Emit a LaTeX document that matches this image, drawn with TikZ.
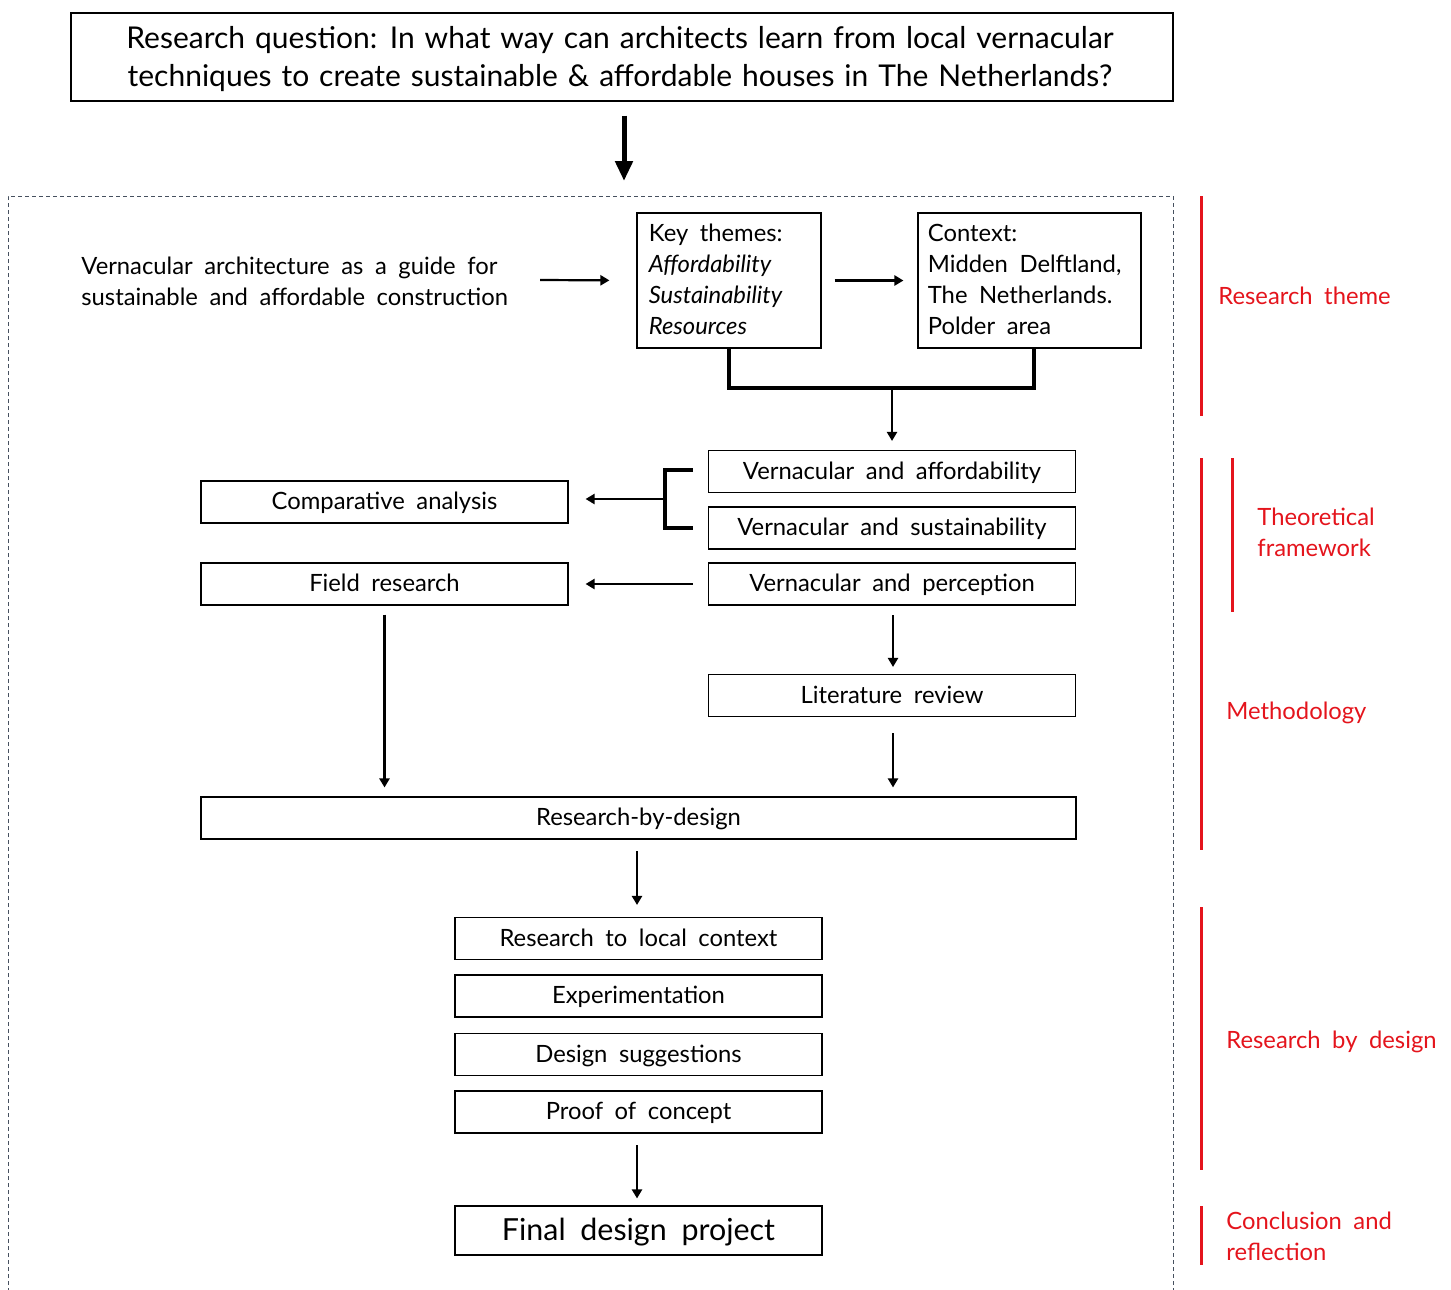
\documentclass[tikz,border=0pt]{standalone}
\usepackage{fontspec}
\setmainfont{Lato}[WordSpace=1.9]
\newfontfamily\qfont{Lato}[WordSpace=1.3]
\usetikzlibrary{arrows.meta,calc}
\definecolor{redlab}{RGB}{228,20,28}
\definecolor{framec}{RGB}{70,80,95}
\tikzset{
  txt/.style={font=\fontsize{11.9}{15.5}\selectfont, inner sep=0pt},
  box/.style={draw, line width=0.55pt, txt, minimum height=21pt, align=center, text height=10.3pt, text depth=2.5pt},
  wbox/.style={box, minimum width=183.5pt},
  arr/.style={-{Triangle[length=4.5pt,width=5pt]}, line width=1.1pt},
  bigarr/.style={-{Triangle[length=10pt,width=8.5pt]}, line width=2.5pt},
  brk/.style={line width=1.6pt},
  redline/.style={draw=redlab, line width=1.5pt},
  redtxt/.style={txt, text=redlab, anchor=west, align=left},
}
\begin{document}
\begin{tikzpicture}[x=0.5pt,y=-0.5pt]
\useasboundingbox (0,0) rectangle (1451,1290);
% frame
\draw[framec, line width=0.5pt, dash pattern=on 2pt off 1.5pt] (8,1292) -- (8,196) -- (1173,196) -- (1173,1292);
\coordinate (ftop) at (624,196);
% question
\node[draw, line width=0.55pt, minimum width=551pt, minimum height=44pt, inner sep=0pt] (q) at (622,57) {};
\node[align=center, inner sep=0pt, font=\qfont\fontsize{15}{19}\selectfont] (qt) at (620,59)
  {Research question: In what way can architects learn from local vernacular\\techniques to create sustainable \& affordable houses in The Netherlands?};
\draw[bigarr, shorten <=7pt, shorten >=7.5pt] (q.south -| ftop) -- (ftop);
% research theme
\node[txt, anchor=west, align=left] (vern) at (81,281) {Vernacular architecture as a guide for\\sustainable and affordable construction};
\node[draw, line width=0.55pt, txt, minimum width=92pt, minimum height=67.5pt] (kt) at (729,280.5) {};
\node[txt, anchor=north west, align=left] (ktt) at ($(kt.north west)+(12,11)$)
  {Key themes:\\\textit{Affordability}\\\textit{Sustainability}\\\textit{Resources}};
\node[draw, line width=0.55pt, txt, minimum width=111.5pt, minimum height=67.5pt] (ctx) at (1029.5,280.5) {};
\node[txt, anchor=north west, align=left] (ctxt) at ($(ctx.north west)+(10,11)$)
  {Context:\\Midden Delftland,\\The Netherlands.\\Polder area};
\coordinate (a1) at (540,280);
\draw[arr, shorten >=13.5pt] (a1) -- (kt.west);
\draw[arr, shorten <=6.5pt, shorten >=7pt] (kt.east) -- (ctx.west);
% theoretical framework
\node[wbox] (va) at (892,471.5) {Vernacular and affordability};
\node[wbox] (vs) at (892,528) {Vernacular and sustainability};
\node[wbox] (vp) at (892,584) {Vernacular and perception};
\node[wbox] (ca) at (384.5,502) {Comparative analysis};
\node[wbox] (fr) at (384.5,584) {Field research};
\node[wbox] (lr) at (892,695.5) {Literature review};
\node[box, minimum width=437.5pt] (rbd) at (638.5,818) {Research-by-design};
% bracket key/context
\coordinate (jn) at (892,388);
\coordinate (ctxleg) at ($(ctx.south)+(4.5,0)$);
\draw[brk] (kt.south) |- (jn) -| (ctxleg);
\draw[arr, shorten >=4.5pt] (jn) -- (jn |- va.north);
% bracket to comparative analysis
\coordinate (bk) at (665,499);
\draw[brk] ($(va.west)+(-15,-1.5)$) -| (bk) |- ($(vs.west)+(-15,0)$);
\draw[arr, shorten >=8.5pt] (bk) -- (bk -| ca.east);
\draw[arr, shorten <=7.5pt, shorten >=8.5pt] (vp.west) -- (fr.east);
\coordinate (vpx) at (893,605);
\draw[arr, shorten <=5pt, shorten >=3.5pt] (vpx) -- (vpx |- lr.north);
\coordinate (lrx) at (893,716);
\draw[arr, shorten <=8.5pt, shorten >=4.5pt] (lrx) -- (lrx |- rbd.north);
\draw[arr, shorten <=4.5pt, shorten >=4.5pt] (fr.south) -- (fr.south |- rbd.north);
% research by design
\node[wbox] (rlc) at (638.5,938.5) {Research to local context};
\node[wbox] (exp) at (638.5,996) {Experimentation};
\node[wbox] (ds) at (638.5,1054.5) {Design suggestions};
\node[wbox] (poc) at (638.5,1112) {Proof of concept};
\node[wbox, minimum height=24.5pt, font=\fontsize{15.2}{17}\selectfont, text height=12.5pt, text depth=3pt] (fdp) at (638.5,1230.5) {Final design project};
\coordinate (rbx) at (637,839);
\draw[arr, shorten <=6pt, shorten >=6pt] (rbx) -- (rbx |- rlc.north);
\coordinate (pcx) at (637,1133);
\draw[arr, shorten <=6pt, shorten >=3.5pt] (pcx) -- (pcx |- fdp.north);
% red side labels
\draw[redline] (1201,196) -- (1201,416);
\node[redtxt] (lt1) at (1218,296) {Research theme};
\draw[redline] (1201,458) -- (1201,850);
\draw[redline] (1232,458) -- (1232,612);
\node[redtxt] (lt2) at (1257,532.5) {Theoretical\\framework};
\node[redtxt] (lt3) at (1226,713) {Methodology};
\draw[redline] (1201,907) -- (1201,1170);
\node[redtxt] (lt4) at (1226,1042) {Research by design};
\draw[redline] (1201,1206) -- (1201,1265);
\node[redtxt] (lt5) at (1226,1236.5) {Conclusion and\\reflection};
\end{tikzpicture}
\end{document}
